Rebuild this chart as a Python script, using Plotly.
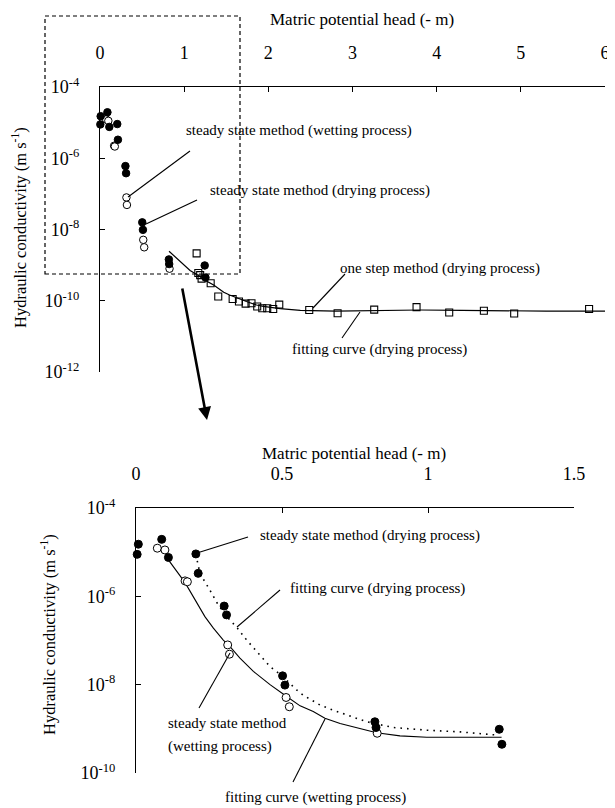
import numpy as np
import plotly.graph_objects as go

W, H = 615, 808
OFF = 8  # the page places the figure 8 px from the top-left corner

# ---------------- data (log10 of hydraulic conductivity, m/s) ----------------
# steady state method, drying process (filled circles)
ss_dry_h = [0.004, 0.008, 0.088, 0.111, 0.205, 0.213, 0.302, 0.310, 0.502, 0.510, 0.818, 0.822, 1.244, 1.253]
ss_dry_logK = [-5.05, -4.82, -4.71, -5.12, -5.04, -5.48, -6.22, -6.42, -7.80, -8.01, -8.84, -8.97, -9.01, -9.35]

# steady state method, wetting process (open circles)
ss_wet_h = [0.073, 0.099, 0.168, 0.176, 0.314, 0.320, 0.514, 0.525, 0.826]
ss_wet_logK = [-4.91, -4.95, -5.65, -5.67, -7.10, -7.31, -8.29, -8.50, -9.10]

# one step method, drying process (open squares)
os_dry_h = [1.148, 1.168, 1.190, 1.207, 1.315, 1.405, 1.576, 1.651, 1.730, 1.800, 1.868, 1.928,
            1.987, 2.058, 2.130, 2.486, 2.823, 3.258, 3.761, 4.149, 4.561, 4.921, 5.811]
os_dry_logK = [-8.67, -9.22, -9.28, -9.38, -9.51, -9.88, -9.95, -10.02, -10.08, -10.07, -10.16, -10.21,
               -10.21, -10.23, -10.11, -10.26, -10.35, -10.25, -10.18, -10.33, -10.28, -10.36, -10.23]

# fitting curve (drying process) in the upper chart
fit_os_h = [0.82, 0.95, 1.07, 1.15, 1.23, 1.35, 1.47, 1.54, 1.66, 1.74, 1.86, 1.94, 2.14, 2.38,
            2.8, 3.3, 3.8, 4.3, 4.8, 5.3, 6.0]
fit_os_logK = [-8.61, -8.90, -9.15, -9.26, -9.40, -9.56, -9.76, -9.84, -9.96, -10.02, -10.12, -10.16,
               -10.22, -10.27, -10.29, -10.27, -10.26, -10.27, -10.29, -10.29, -10.29]

# fitting curve (wetting process) in the lower chart
fit_wet_h = [0.111, 0.116, 0.168, 0.196, 0.236, 0.265, 0.299, 0.322, 0.356, 0.402, 0.459, 0.510,
             0.562, 0.607, 0.647, 0.699, 0.767, 0.824, 0.904, 0.996, 1.132, 1.252]
fit_wet_logK = [-5.12, -5.22, -5.69, -6.01, -6.46, -6.72, -6.99, -7.14, -7.40, -7.70, -8.00, -8.24,
                -8.48, -8.61, -8.76, -8.88, -8.99, -9.09, -9.16, -9.19, -9.19, -9.19]

# fitting curve (drying process) in the lower chart
fit_dry_h = [0.205, 0.219, 0.253, 0.282, 0.322, 0.345, 0.379, 0.425, 0.459, 0.504, 0.550, 0.573,
             0.630, 0.676, 0.733, 0.790, 0.881, 0.996, 1.110, 1.235]
fit_dry_logK = [-5.05, -5.48, -5.86, -6.20, -6.54, -6.70, -6.99, -7.33, -7.59, -7.82, -8.12, -8.24,
                -8.46, -8.58, -8.71, -8.84, -8.97, -9.03, -9.07, -9.14]

top_xticks = [0, 1, 2, 3, 4, 5, 6]
top_yexp = [-4, -6, -8, -10, -12]
bot_xticks = [0, 0.5, 1, 1.5]
bot_xticktext = ["0", "0.5", "1", "1.5"]
bot_yexp = [-4, -6, -8, -10]


def K(v):
    return np.power(10.0, np.array(v))


FONT = "Liberation Serif"
fig = go.Figure()

# ---------------- upper chart ----------------
fig.add_trace(go.Scatter(x=fit_os_h, y=K(fit_os_logK), mode="lines",
                         line=dict(color="black", width=1.2), xaxis="x", yaxis="y",
                         showlegend=False))
fig.add_trace(go.Scatter(x=os_dry_h, y=K(os_dry_logK), mode="markers",
                         marker=dict(symbol="square-open", size=7, color="black", line=dict(width=1.1)),
                         xaxis="x", yaxis="y", showlegend=False, cliponaxis=False))
fig.add_trace(go.Scatter(x=ss_wet_h, y=K(ss_wet_logK), mode="markers",
                         marker=dict(symbol="circle", size=7.5, color="white", line=dict(color="black", width=1)),
                         xaxis="x", yaxis="y", showlegend=False, cliponaxis=False))
fig.add_trace(go.Scatter(x=ss_dry_h, y=K(ss_dry_logK), mode="markers",
                         marker=dict(symbol="circle", size=7.5, color="black", line=dict(color="black", width=1)),
                         xaxis="x", yaxis="y", showlegend=False, cliponaxis=False))

# ---------------- lower chart ----------------
fig.add_trace(go.Scatter(x=fit_wet_h, y=K(fit_wet_logK), mode="lines",
                         line=dict(color="black", width=1.1), xaxis="x2", yaxis="y2",
                         showlegend=False))
fig.add_trace(go.Scatter(x=fit_dry_h, y=K(fit_dry_logK), mode="lines",
                         line=dict(color="black", width=1.6, dash="1.6px,5px"), xaxis="x2", yaxis="y2",
                         showlegend=False))
fig.add_trace(go.Scatter(x=ss_wet_h, y=K(ss_wet_logK), mode="markers",
                         marker=dict(symbol="circle", size=8, color="white", line=dict(color="black", width=1)),
                         xaxis="x2", yaxis="y2", showlegend=False, cliponaxis=False))
fig.add_trace(go.Scatter(x=ss_dry_h, y=K(ss_dry_logK), mode="markers",
                         marker=dict(symbol="circle", size=8, color="black", line=dict(color="black", width=1)),
                         xaxis="x2", yaxis="y2", showlegend=False, cliponaxis=False))


def px(x):
    return (x - OFF) / W


def py(y):
    return 1 - (y - OFF) / H


axis_common = dict(showgrid=False, zeroline=False, showline=True, linecolor="black", linewidth=1.2,
                   ticks="inside", ticklen=5, tickwidth=1.2, tickcolor="black", automargin=False,
                   tickfont=dict(family=FONT, size=18, color="black"))

fig.update_layout(
    width=W, height=H, autosize=False,
    margin=dict(l=0, r=0, t=0, b=0, pad=0, autoexpand=False),
    paper_bgcolor="white", plot_bgcolor="white",
    xaxis=dict(domain=[px(100), px(605)], range=[0, 6], side="top", anchor="y",
               tickvals=top_xticks, ticklabelstandoff=20, **axis_common),
    yaxis=dict(domain=[py(372), py(87)], type="log", range=[-12, -4], anchor="x",
               tickvals=list(K(top_yexp)), ticktext=[f"10<sup>{e}</sup>" for e in top_yexp],
               ticklabelstandoff=16, **axis_common),
    xaxis2=dict(domain=[px(136), px(574)], range=[0, 1.5], side="top", anchor="y2",
                tickvals=bot_xticks, ticktext=bot_xticktext, ticklabelstandoff=20, **axis_common),
    yaxis2=dict(domain=[py(773), py(508)], type="log", range=[-10, -4], anchor="x2",
                tickvals=list(K(bot_yexp)), ticktext=[f"10<sup>{e}</sup>" for e in bot_yexp],
                ticklabelstandoff=16, **axis_common),
)

TXT = 15
annotations = []


def label(x, y, text, size=TXT, xanchor="left", angle=0):
    annotations.append(dict(x=px(x), y=py(y), xref="paper", yref="paper", text=text, showarrow=False,
                            xanchor=xanchor, yanchor="middle", textangle=angle,
                            font=dict(family=FONT, size=size, color="black")))


# axis titles
label(362, 19, "Matric potential head (- m)", size=17, xanchor="center")
label(354, 453, "Matric potential head (- m)", size=17, xanchor="center")
label(19, 228, "Hydraulic conductivity (m s<sup>-1</sup>)", size=16.5, xanchor="center", angle=-90)
label(48, 635, "Hydraulic conductivity (m s<sup>-1</sup>)", size=16.5, xanchor="center", angle=-90)

# upper chart labels
label(184, 130, "steady state method (wetting process)")
label(208, 191, "steady state method (drying process)")
label(338, 268, "one step method (drying process)")
label(290, 350, "fitting curve (drying process)")
# lower chart labels
label(258, 535, "steady state method (drying process)")
label(288, 588, "fitting curve (drying process)")
label(166, 723, "steady state method")
label(166, 746, "(wetting process)")
label(223, 797, "fitting curve (wetting process)")

# big arrow from the zoom box to the lower chart
annotations.append(dict(x=px(207), y=py(420), xref="paper", yref="paper", text="", showarrow=True,
                        ax=-25, ay=-133, axref="pixel", ayref="pixel", arrowhead=2, arrowsize=1,
                        arrowwidth=2.6, arrowcolor="black", standoff=0))
fig.update_layout(annotations=annotations)

shapes = []


def seg(x0, y0, x1, y1, width=1.1, dash=None):
    d = dict(type="line", xref="paper", yref="paper", x0=px(x0), y0=py(y0), x1=px(x1), y1=py(y1),
             line=dict(color="black", width=width))
    if dash:
        d["line"]["dash"] = dash
    shapes.append(d)


# leader lines
seg(190, 151, 128, 197)
seg(197, 200, 146, 224)
seg(345, 274, 313, 308)
seg(360, 312, 342, 338)
seg(248, 537, 197, 553)
seg(280, 590, 237, 627)
seg(199, 708, 230, 653)
seg(293, 782, 325, 719)

# dashed zoom rectangle
shapes.append(dict(type="rect", xref="paper", yref="paper", x0=px(45), x1=px(240), y0=py(274), y1=py(16),
                   line=dict(color="black", width=1.2, dash="4px,3px"), fillcolor="rgba(0,0,0,0)"))
fig.update_layout(shapes=shapes)

fig.write_html("out.html")
